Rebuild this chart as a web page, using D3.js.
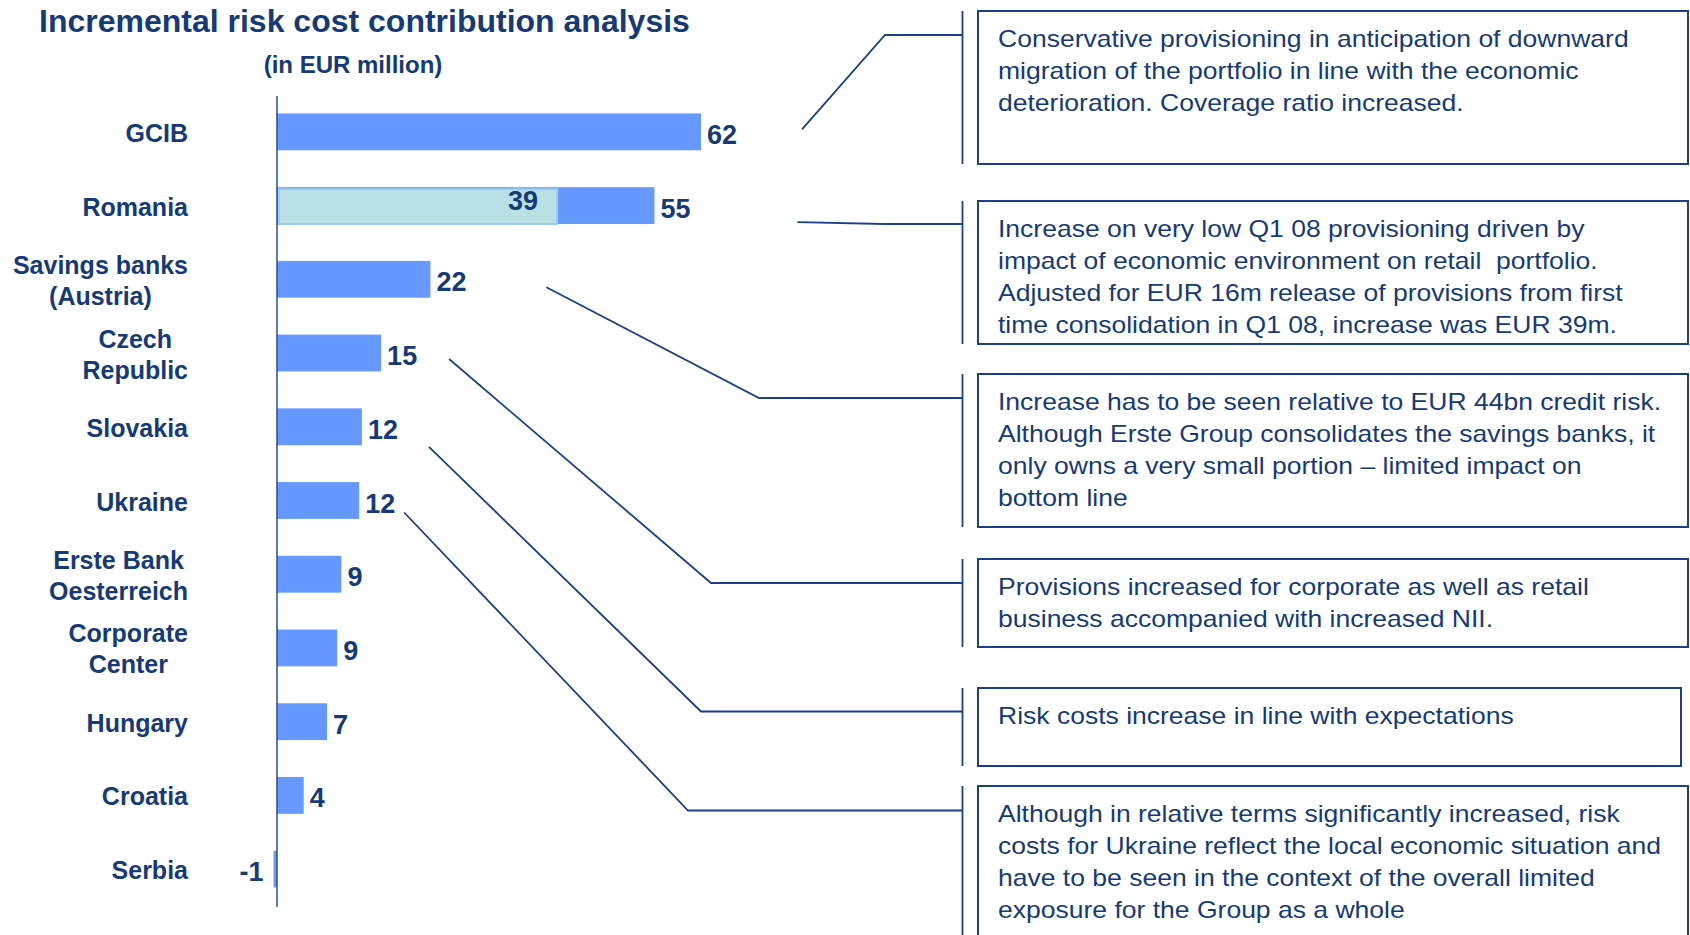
<!DOCTYPE html>
<html>
<head>
<meta charset="utf-8">
<script src="https://cdn.jsdelivr.net/npm/d3@7"></script>
<style>
body { margin: 0; background: #fff; }
svg { display: block; font-family: "Liberation Sans", Arial, sans-serif; }
</style>
</head>
<body>
<svg width="1690" height="935"></svg>
<script>
// chart data
var categories = [
	["GCIB"], ["Romania"], ["Savings banks", "(Austria)"], ["Czech", "Republic"],
	["Slovakia"], ["Ukraine"], ["Erste Bank", "Oesterreich"], ["Corporate", "Center"],
	["Hungary"], ["Croatia"], ["Serbia"]
];
var values = [61.9, 55.1, 22.4, 15.2, 12.4, 12.0, 9.4, 8.8, 7.3, 3.9, -0.5];
var valueLabels = ["62", "55", "22", "15", "12", "12", "9", "9", "7", "4", "-1"];
// adjusted Romania increase (overlay inside the bar)
var adjustedCategory = "Romania";
var adjustedValue = 40.9;
var adjustedLabel = "39";

var notes = [
	["Conservative provisioning in anticipation of downward",
	 "migration of the portfolio in line with the economic",
	 "deterioration. Coverage ratio increased."],
	["Increase on very low Q1 08 provisioning driven by",
	 "impact of economic environment on retail  portfolio.",
	 "Adjusted for EUR 16m release of provisions from first",
	 "time consolidation in Q1 08, increase was EUR 39m."],
	["Increase has to be seen relative to EUR 44bn credit risk.",
	 "Although Erste Group consolidates the savings banks, it",
	 "only owns a very small portion \u2013 limited impact on",
	 "bottom line"],
	["Provisions increased for corporate as well as retail",
	 "business accompanied with increased NII."],
	["Risk costs increase in line with expectations"],
	["Although in relative terms significantly increased, risk",
	 "costs for Ukraine reflect the local economic situation and",
	 "have to be seen in the context of the overall limited",
	 "exposure for the Group as a whole"]
];
var noteTargets = ["GCIB", "Romania", "Savings banks", "Czech", "Slovakia", "Ukraine"];

// layout of the note boxes and leader lines
var boxes = [[11, 164, 1688], [201, 344, 1688], [374, 527, 1688], [559, 647, 1688], [688, 766, 1681], [786, 945, 1688]];
var elbows = [[885, 35], [884, 224], [759, 398], [711, 583], [701, 711.5], [688, 810.5]];
var leadOffsets = [[101, -2.4], [143, 16.5], [116, 8], [68, 6], [67, 20], [45, 12]];

var navy = "#163a78",
	lineColor = "#1b3f88",
	barColor = "#6699ff";

var svg = d3.select("svg");

var keys = categories.map((c) => c[0]);

var y = d3.scaleBand()
	.domain(keys)
	.range([95, 906])
	.paddingInner(0.5)
	.paddingOuter(0.25);

var x = d3.scaleLinear()
	.domain([0, 61.9])
	.range([277, 701]);

// title
svg.append("text")
	.attr("x", 39)
	.attr("y", 32)
	.attr("font-size", 32)
	.attr("font-weight", "bold")
	.attr("fill", navy)
	.text("Incremental risk cost contribution analysis");

svg.append("text")
	.attr("x", 353)
	.attr("y", 73)
	.attr("text-anchor", "middle")
	.attr("font-size", 24)
	.attr("font-weight", "bold")
	.attr("fill", navy)
	.text("(in EUR million)");

// bars
svg.selectAll(".bar")
	.data(values)
	.enter()
	.append("rect")
	.attr("class", "bar")
	.attr("x", (d) => x(Math.min(0, d)))
	.attr("y", (d, i) => y(keys[i]))
	.attr("width", (d) => Math.abs(x(d) - x(0)))
	.attr("height", y.bandwidth())
	.attr("fill", barColor);

// Romania adjusted overlay
svg.append("rect")
	.attr("x", x(0) + 2)
	.attr("y", y(adjustedCategory) + 2)
	.attr("width", x(adjustedValue) - x(0) - 2)
	.attr("height", y.bandwidth() - 2)
	.attr("fill", "#b9e0e3")
	.attr("stroke", "#9ccaf5")
	.attr("stroke-width", 2);

svg.append("text")
	.attr("x", x(adjustedValue) - 19)
	.attr("y", y(adjustedCategory) + y.bandwidth() / 2 + 4)
	.attr("text-anchor", "end")
	.attr("font-size", 27)
	.attr("font-weight", "bold")
	.attr("fill", navy)
	.text(adjustedLabel);

// axis line
svg.append("line")
	.attr("x1", x(0))
	.attr("x2", x(0))
	.attr("y1", 96)
	.attr("y2", 907)
	.attr("stroke", "#2a4a9a")
	.attr("stroke-width", 1.5);

// value labels
svg.selectAll(".value")
	.data(values)
	.enter()
	.append("text")
	.attr("class", "value")
	.attr("x", (d) => (d < 0 ? x(d) - 10 : x(d) + 6))
	.attr("y", (d, i) => y(keys[i]) + y.bandwidth() / 2 + 12)
	.attr("text-anchor", (d) => (d < 0 ? "end" : "start"))
	.attr("font-size", 27)
	.attr("font-weight", "bold")
	.attr("fill", navy)
	.text((d, i) => valueLabels[i]);

// category labels: lines centred in a block right-aligned at x = 188
var labels = svg.selectAll(".cat")
	.data(categories)
	.enter()
	.append("text")
	.attr("class", "cat")
	.attr("font-size", 25)
	.attr("font-weight", "bold")
	.attr("fill", navy)
	.attr("text-anchor", "middle");

labels.each(function(lines, i) {
	var t = d3.select(this);
	var cy = y(keys[i]) + y.bandwidth() / 2;
	var w = 0;
	lines.forEach((l, j) => {
		var s = t.append("tspan")
			.attr("x", 0)
			.attr("y", cy + 10 + (j - (lines.length - 1) / 2) * 31)
			.text(l);
		w = Math.max(w, s.node().getComputedTextLength());
	});
	t.selectAll("tspan").attr("x", 188 - w / 2);
});

// note boxes
notes.forEach((lines, i) => {
	var b = boxes[i];
	svg.append("rect")
		.attr("x", 978)
		.attr("y", b[0])
		.attr("width", b[2] - 978)
		.attr("height", b[1] - b[0])
		.attr("fill", "none")
		.attr("stroke", lineColor)
		.attr("stroke-width", 2);

	svg.append("line")
		.attr("x1", 962.5)
		.attr("x2", 962.5)
		.attr("y1", b[0])
		.attr("y2", b[1])
		.attr("stroke", lineColor)
		.attr("stroke-width", 1.8);

	// slide text is a little wider than the font, stretch it horizontally
	var t = svg.append("text")
		.attr("transform", "translate(998,0) scale(1.105,1)")
		.attr("font-size", 24)
		.attr("fill", navy)
		.style("white-space", "pre");
	lines.forEach((l, j) => {
		t.append("tspan")
			.attr("x", 0)
			.attr("y", b[0] + 36 + j * 32)
			.text(l);
	});

	var k = keys.indexOf(noteTargets[i]);
	var v = values[k];
	var start = [x(v) + leadOffsets[i][0], y(keys[k]) + y.bandwidth() / 2 + leadOffsets[i][1]];
	svg.append("path")
		.attr("d", "M" + start + "L" + elbows[i] + "L962.5," + elbows[i][1])
		.attr("fill", "none")
		.attr("stroke", lineColor)
		.attr("stroke-width", 1.8);
});
</script>
</body>
</html>
